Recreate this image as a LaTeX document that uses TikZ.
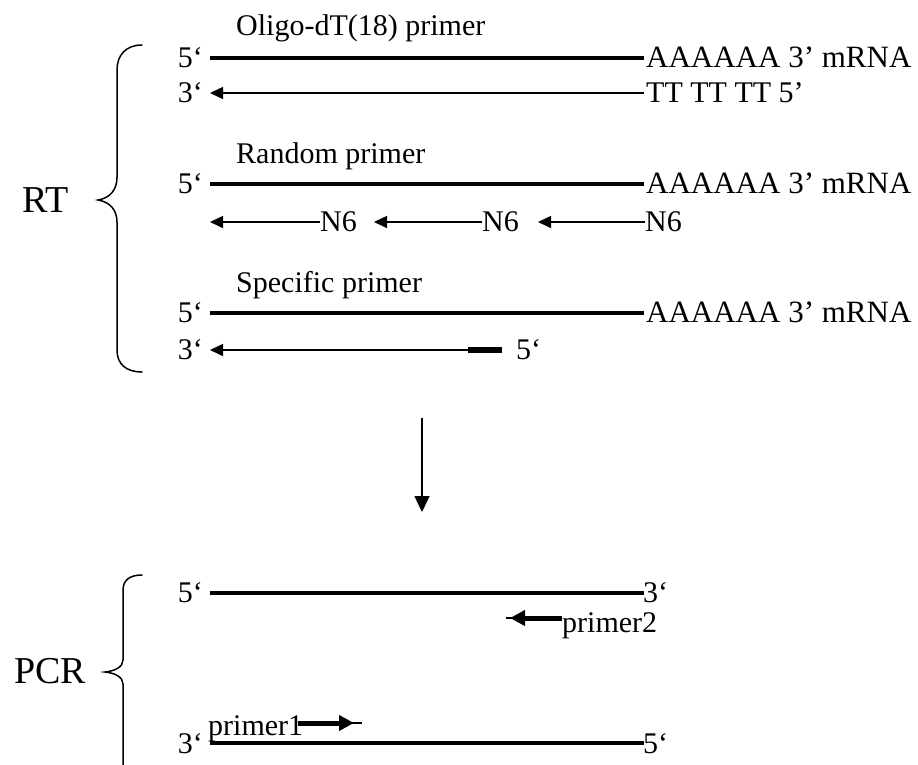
\documentclass[tikz,border=0pt]{standalone}
\usepackage{fontspec}
\setmainfont{Liberation Serif}
\usetikzlibrary{arrows.meta}
\begin{document}
\begin{tikzpicture}[x=1pt,y=-1pt,
  lbl/.style={inner sep=0pt, font=\fontsize{30}{36}\selectfont},
  tail/.style={inner sep=0pt, font=\fontsize{31}{36}\selectfont},
  big/.style={inner sep=0pt, font=\fontsize{38}{44}\selectfont},
  strand/.style={line width=3.5pt},
  thinline/.style={line width=1.5pt},
  thinarr/.style={line width=1.5pt, -{Triangle[length=13pt 0 0,width=12pt 0 0]}},
  primarr/.style={line width=5pt, -{Triangle[length=15pt 0 0,width=15pt 0 0]}},
  downarr/.style={line width=1.5pt, -{Triangle[length=16pt 0 0,width=15pt 0 0]}},
  brace/.style={line width=1.5pt, line cap=round}]
\useasboundingbox (0,0) rectangle (918,764);

% ---------- RT block ----------
\node[big, anchor=base west] (rt) at (22,212) {RT};
\draw[brace] (142,45) .. controls (126,45) and (117,55) .. (117,70) -- (117,177)
  .. controls (117,190) and (110,198) .. (98,200)
  .. controls (110,202) and (117,210) .. (117,222) -- (117,350)
  .. controls (117,364) and (126,372) .. (142,372);

% Oligo-dT
\node[lbl, anchor=base west] (t1) at (236,35) {Oligo-dT(18) primer};
\node[lbl, anchor=base east] (a5) at (203,67) {5‘};
\coordinate (a1) at (210,58); \coordinate (a2) at (644,58);
\draw[strand] (a1) -- (a2);
\node[tail, anchor=base west] (atail) at (646,67) {AAAAAA 3’ mRNA};
\node[lbl, anchor=base east] (b3) at (203,102) {3‘};
\coordinate (b1) at (644,93); \coordinate (b2) at (210,93);
\draw[thinarr] (b1) -- (b2);
\node[lbl, anchor=base west] (btail) at (646,102) {TT TT TT 5’};

% Random primer
\node[lbl, anchor=base west] (t2) at (236,163) {Random primer};
\node[lbl, anchor=base east] (c5) at (203,193) {5‘};
\coordinate (c1) at (210,184); \coordinate (c2) at (644,184);
\draw[strand] (c1) -- (c2);
\node[tail, anchor=base west] (ctail) at (646,193) {AAAAAA 3’ mRNA};
\node[lbl, anchor=base west] (n1) at (320,231) {N6};
\node[lbl, anchor=base west] (n2) at (482,231) {N6};
\node[lbl, anchor=base west] (n3) at (645,231) {N6};
\coordinate (d1s) at (320,222); \coordinate (d1e) at (210,222);
\coordinate (d2s) at (482,222); \coordinate (d2e) at (374,222);
\coordinate (d3s) at (645,222); \coordinate (d3e) at (538,222);
\draw[thinarr] (d1s) -- (d1e);
\draw[thinarr] (d2s) -- (d2e);
\draw[thinarr] (d3s) -- (d3e);

% Specific primer
\node[lbl, anchor=base west] (t3) at (236,292) {Specific primer};
\node[lbl, anchor=base east] (e5) at (203,322) {5‘};
\coordinate (e1) at (210,313); \coordinate (e2) at (644,313);
\draw[strand] (e1) -- (e2);
\node[tail, anchor=base west] (etail) at (646,322) {AAAAAA 3’ mRNA};
\node[lbl, anchor=base east] (f3) at (203,359) {3‘};
\coordinate (f1) at (502,350); \coordinate (f2) at (210,350);
\coordinate (fp) at (468,350);
\draw[thinarr] (f1) -- (f2);
\draw[line width=6pt] (fp) -- (f1);
\node[lbl, anchor=base west] (f5) at (516,359) {5‘};

% ---------- arrow down ----------
\coordinate (g1) at (422,418); \coordinate (g2) at (422,512);
\draw[downarr] (g1) -- (g2);

% ---------- PCR block ----------
\node[big, anchor=base west] (pcr) at (14,683) {PCR};
\draw[brace] (142,575) .. controls (130,575) and (123,580) .. (123,590) -- (123,660)
  .. controls (123,667) and (115,671) .. (105,672)
  .. controls (115,673) and (123,677) .. (123,684) -- (123,770);

\node[lbl, anchor=base east] (h5) at (203,602) {5‘};
\coordinate (h1) at (210,593); \coordinate (h2) at (644,593);
\draw[strand] (h1) -- (h2);
\node[lbl, anchor=base west] (h3) at (643,602) {3‘};

\node[lbl, anchor=base west] (p2) at (562,632) {primer2};
\coordinate (p2a) at (562,618); \coordinate (p2b) at (510,618); \coordinate (p2c) at (506,618);
\draw[thinline] (p2a) -- (p2c);
\draw[primarr] (p2a) -- (p2b);

\node[lbl, anchor=base west] (p1) at (208,735) {primer1};
\coordinate (p1a) at (298,723); \coordinate (p1b) at (354,723); \coordinate (p1c) at (362,723);
\draw[thinline] (p1a) -- (p1c);
\draw[primarr] (p1a) -- (p1b);

\node[lbl, anchor=base east] (k3) at (203,753) {3‘};
\coordinate (k1) at (210,743); \coordinate (k2) at (644,743);
\draw[strand] (k1) -- (k2);
\node[lbl, anchor=base west] (k5) at (643,753) {5‘};
\end{tikzpicture}
\end{document}
